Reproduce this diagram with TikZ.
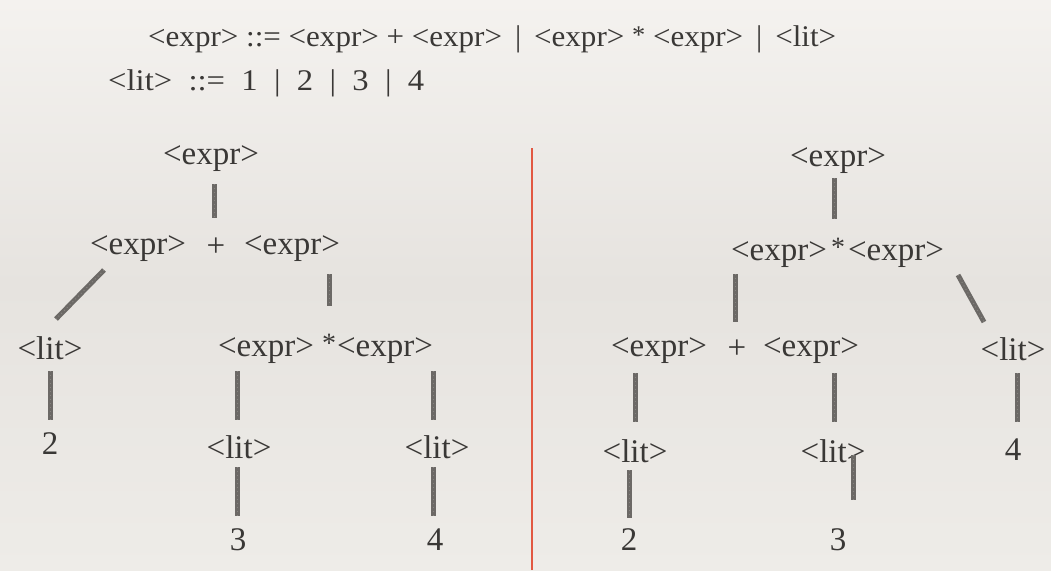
\documentclass[tikz,border=0pt]{standalone}
\usepackage{fontspec}
\setmainfont{Liberation Serif}
\usepackage{graphicx}
\definecolor{txt}{RGB}{58,56,54}
\definecolor{chalk}{RGB}{108,105,102}
\definecolor{chalklight}{RGB}{135,132,128}
\definecolor{bgtop}{RGB}{244,242,239}
\definecolor{bgmid}{RGB}{230,227,223}
\definecolor{bgbot}{RGB}{238,236,232}
\definecolor{redline}{RGB}{226,88,66}
\tikzset{
  sym/.style={inner sep=0pt, text=txt, font=\fontsize{33}{38}\selectfont},
  star/.style={inner sep=0pt, text=txt, font=\fontsize{28}{32}\selectfont},
  gram/.style={inner sep=0pt, text=txt, anchor=base west, font=\fontsize{30}{34}\selectfont},
  edge/.style={draw=chalk, line width=5pt, postaction={draw=chalklight, line width=1pt, dash pattern=on 1pt off 3pt}},
  divider/.style={draw=redline, line width=1.3pt}
}
\newcommand{\gstar}{\raisebox{0.2ex}{\scalebox{0.85}{*}}}
\begin{document}
\begin{tikzpicture}[x=1pt,y=-1pt]
\shade[top color=bgtop, bottom color=bgbot, middle color=bgmid] (0,0) rectangle (1051,570);
\useasboundingbox (0,0) rectangle (1051,570);

% grammar
\node[gram] (g1) at (148,46) {\resizebox{688pt}{\height}{<expr> ::= <expr> + <expr> \,|\, <expr> \gstar{} <expr> \,|\, <lit>}};
\node[gram] (g2) at (108,90) {\resizebox{316pt}{\height}{<lit>\ \ ::=\ \ 1\ \ |\ \ 2\ \ |\ \ 3\ \ |\ \ 4}};

% divider
\coordinate (dv1) at (532,148);
\coordinate (dv2) at (532,570);
\draw[divider] (dv1) -- (dv2);

% ---------------- left tree ----------------
\node[sym] (L0) at (211,159) {<expr>};
\node[sym] (L1a) at (138,249) {<expr>};
\node[sym] (L1p) at (216,247) {+};
\node[sym] (L1b) at (292,249) {<expr>};
\node[sym] (L2a) at (50,348) {<lit>};
\node[sym] (L2b) at (266,351) {<expr>};
\node[star] (L2s) at (329,343) {*};
\node[sym] (L2c) at (385,351) {<expr>};
\node[sym] (L3a) at (50,444) {2};
\node[sym] (L3b) at (239,447) {<lit>};
\node[sym] (L3c) at (437,447) {<lit>};
\node[sym] (L4b) at (238,540) {3};
\node[sym] (L4c) at (435,540) {4};

\coordinate (la1) at (214,184); \coordinate (la2) at (214,218);
\coordinate (lb1) at (104,270); \coordinate (lb2) at (56,319);
\coordinate (lc1) at (329,274); \coordinate (lc2) at (329,306);
\coordinate (ld1) at (50,371);  \coordinate (ld2) at (50,420);
\coordinate (le1) at (237,371); \coordinate (le2) at (237,420);
\coordinate (lf1) at (433,371); \coordinate (lf2) at (433,420);
\coordinate (lg1) at (237,467); \coordinate (lg2) at (237,516);
\coordinate (lh1) at (433,467); \coordinate (lh2) at (433,516);
\draw[edge] (la1) -- (la2);
\draw[edge] (lb1) -- (lb2);
\draw[edge] (lc1) -- (lc2);
\draw[edge] (ld1) -- (ld2);
\draw[edge] (le1) -- (le2);
\draw[edge] (lf1) -- (lf2);
\draw[edge] (lg1) -- (lg2);
\draw[edge] (lh1) -- (lh2);

% ---------------- right tree ----------------
\node[sym] (R0) at (838,161) {<expr>};
\node[sym] (R1a) at (779,255) {<expr>};
\node[star] (R1s) at (838,247) {*};
\node[sym] (R1b) at (896,255) {<expr>};
\node[sym] (R2a) at (659,351) {<expr>};
\node[sym] (R2p) at (737,349) {+};
\node[sym] (R2b) at (811,351) {<expr>};
\node[sym] (R2c) at (1013,349) {<lit>};
\node[sym] (R3a) at (635,451) {<lit>};
\node[sym] (R3b) at (833,451) {<lit>};
\node[sym] (R3c) at (1013,450) {4};
\node[sym] (R4a) at (629,540) {2};
\node[sym] (R4b) at (838,540) {3};

\coordinate (ra1) at (834,178); \coordinate (ra2) at (834,219);
\coordinate (rb1) at (735,274); \coordinate (rb2) at (735,322);
\coordinate (rc1) at (958,275); \coordinate (rc2) at (984,322);
\coordinate (rd1) at (635,373); \coordinate (rd2) at (635,422);
\coordinate (re1) at (834,373); \coordinate (re2) at (834,422);
\coordinate (rf1) at (1017,373); \coordinate (rf2) at (1017,422);
\coordinate (rg1) at (629,470); \coordinate (rg2) at (629,518);
\coordinate (rh1) at (853,455); \coordinate (rh2) at (853,500);
\draw[edge] (ra1) -- (ra2);
\draw[edge] (rb1) -- (rb2);
\draw[edge] (rc1) -- (rc2);
\draw[edge] (rd1) -- (rd2);
\draw[edge] (re1) -- (re2);
\draw[edge] (rf1) -- (rf2);
\draw[edge] (rg1) -- (rg2);
\draw[edge] (rh1) -- (rh2);
\end{tikzpicture}
\end{document}
